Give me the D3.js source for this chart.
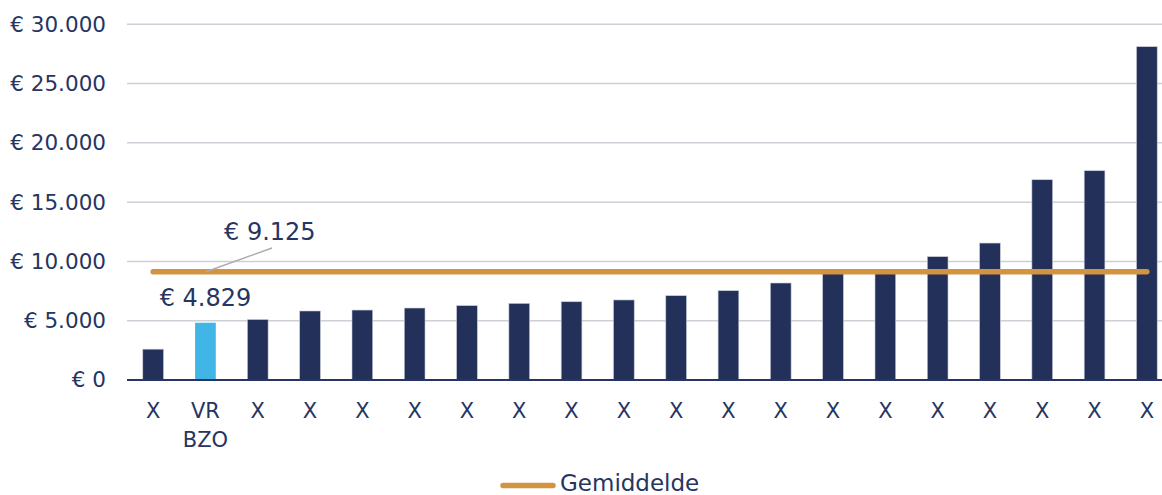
<!DOCTYPE html>
<html><head><meta charset="utf-8">
<script src="https://cdn.jsdelivr.net/npm/d3@7/dist/d3.min.js"></script>
<style>body{margin:0;background:#fff}svg{display:block}</style>
</head><body>
<svg id="c" width="1162" height="495"></svg>
<script>
const categories = ["X","VR\nBZO","X","X","X","X","X","X","X","X","X","X","X","X","X","X","X","X","X","X"];
const values = [2600,4829,5100,5820,5900,6070,6270,6460,6600,6750,7110,7530,8180,9250,9280,10400,11550,16890,17650,28110];
const highlight = [false,true,false,false,false,false,false,false,false,false,false,false,false,false,false,false,false,false,false,false];
const averageValue = 9125;
const yTicks = [0,5000,10000,15000,20000,25000,30000];
const seriesName = "Gemiddelde";

const svg = d3.select("#c");
const FONT = "DejaVu Sans, Verdana, sans-serif";
const TXT = "#263562";
const margin = {left:127, right:-11, top:24.3, bottom:115};
const W = 1162, H = 495;
const x = d3.scaleBand().domain(d3.range(categories.length)).range([margin.left, W - margin.right]).paddingInner(0.604).paddingOuter(0.302);
const y = d3.scaleLinear().domain([0,30000]).range([380, 24.3]);
const fmt = v => "€ " + d3.format(",")(v).replace(/,/g, ".");

// gridlines
svg.append("g").selectAll("line").data(yTicks.filter(d=>d>0)).join("line")
  .attr("x1", margin.left).attr("x2", W).attr("y1", d=>y(d)).attr("y2", d=>y(d))
  .attr("stroke", "#cdd0d6").attr("stroke-width", 1.5);

// y axis labels
const yAxis = d3.axisLeft(y).tickValues(yTicks).tickFormat(fmt).tickSize(0).tickPadding(21);
const ga = svg.append("g").attr("transform", `translate(${margin.left},0)`).call(yAxis);
ga.select(".domain").remove();
ga.selectAll("text").attr("font-family", FONT).attr("font-size", 21.5).attr("fill", TXT);

// bars
svg.append("g").selectAll("rect").data(values).join("rect")
  .attr("x", (d,i)=>x(i)).attr("width", x.bandwidth())
  .attr("y", d=>y(d)).attr("height", d=>y(0)-y(d))
  .attr("fill", (d,i)=>highlight[i] ? "#41b6e6" : "#22305a")
  .attr("stroke", (d,i)=>highlight[i] ? "none" : "#c5cad6").attr("stroke-width", 0.6);

// x axis line
svg.append("line").attr("x1", margin.left).attr("x2", W).attr("y1", y(0)).attr("y2", y(0))
  .attr("stroke", "#263562").attr("stroke-width", 2);

// x labels
const xl = svg.append("g").selectAll("text").data(categories).join("text")
  .attr("x", (d,i)=>x(i)+x.bandwidth()/2).attr("y", 418)
  .attr("text-anchor", "middle").attr("font-family", FONT).attr("font-size", 21).attr("fill", TXT);
xl.each(function(d){
  const lines = d.split("\n");
  d3.select(this).selectAll("tspan").data(lines).join("tspan")
    .attr("x", d3.select(this).attr("x")).attr("dy", (l,j)=>j===0?0:29).text(l=>l);
});

// average line
const xc = i => x(i) + x.bandwidth()/2;
const line = d3.line().x(d=>xc(d.i)).y(d=>y(d.v));
svg.append("path").datum(values.map((v,i)=>({i, v:averageValue})))
  .attr("d", line).attr("fill","none").attr("stroke","#d39441").attr("stroke-width",5.5).attr("stroke-linecap","round");

// average label + leader
svg.append("line").attr("x1", 206).attr("y1", y(averageValue)).attr("x2", 272).attr("y2", 248)
  .attr("stroke", "#b0aaaa").attr("stroke-width", 1.5);
svg.append("text").attr("x", 224).attr("y", 240).attr("font-family", FONT).attr("font-size", 24).attr("fill", TXT)
  .text(fmt(averageValue));

// highlighted bar label
svg.append("text").attr("x", xc(1)).attr("y", 306).attr("text-anchor","middle").attr("font-family", FONT).attr("font-size", 24).attr("fill", TXT)
  .text(fmt(values[1]));

// legend
svg.append("line").attr("x1", 503).attr("x2", 553).attr("y1", 485.5).attr("y2", 485.5)
  .attr("stroke", "#d39441").attr("stroke-width", 5.5).attr("stroke-linecap","round");
svg.append("text").attr("x", 560).attr("y", 491).attr("font-family", FONT).attr("font-size", 23).attr("fill", TXT).text(seriesName);
</script>
</body></html>
